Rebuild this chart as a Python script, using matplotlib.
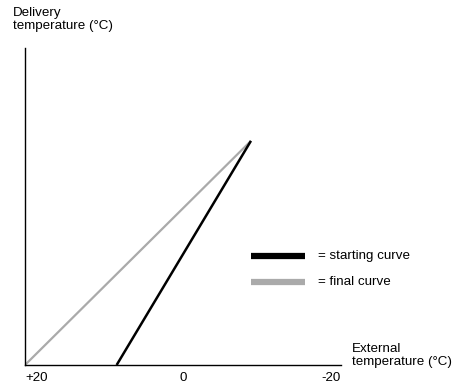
import matplotlib
matplotlib.use("Agg")
import matplotlib.pyplot as plt

plt.rcParams['font.family'] = ['Liberation Sans', 'DejaVu Sans']

# Data (external temperature in °C, delivery temperature in arbitrary units)
starting_x = [8.4, -8.6]
starting_y = [0, 70.7]
final_x = [20, -8.6]
final_y = [0, 70.7]
tick_vals = [20, 0, -20]
tick_labels = ['+20', '0', '-20']

W, H = 456, 385
fig = plt.figure(figsize=(W/100, H/100), dpi=100)
ax = fig.add_axes([25/W, (H-365)/H, (341-25)/W, (365-48)/H])
ax.set_xlim(20, -20)
ax.set_ylim(0, 100)

ax.plot(final_x, final_y, color='#aaaaaa', lw=1.6, solid_capstyle='butt')
ax.plot(starting_x, starting_y, color='black', lw=1.8, solid_capstyle='butt')

for s in ['top', 'right']:
    ax.spines[s].set_visible(False)
for s in ['left', 'bottom']:
    ax.spines[s].set_linewidth(1.0)
ax.set_yticks([])
ax.set_xticks([])

fs = 9.6
import matplotlib.transforms as mtrans
tr = mtrans.blended_transform_factory(ax.transData, fig.transFigure)
for v, lab, ha in zip(tick_vals, tick_labels, ['left', 'center', 'right']):
    ax.text(v, 1 - 378/H, lab, ha=ha, va='center', fontsize=fs,
            transform=tr, clip_on=False)

fig.text(13/W, 1 - 7/H, 'Delivery\ntemperature (°C)', ha='left', va='top',
         fontsize=fs, linespacing=1.1)
fig.text(352/W, 1 - 343/H, 'External\ntemperature (°C)', ha='left', va='top',
         fontsize=fs, linespacing=1.1)

# legend
fig.add_artist(plt.Line2D([251/W, 305/W], [1-256/H, 1-256/H], color='black', lw=4.5, solid_capstyle='butt'))
fig.add_artist(plt.Line2D([251/W, 305/W], [1-282/H, 1-282/H], color='#aaaaaa', lw=4.5, solid_capstyle='butt'))
fig.text(318/W, 1-256/H, '= starting curve', ha='left', va='center', fontsize=fs)
fig.text(318/W, 1-282/H, '= final curve', ha='left', va='center', fontsize=fs)

fig.savefig('out.png', dpi=100)
